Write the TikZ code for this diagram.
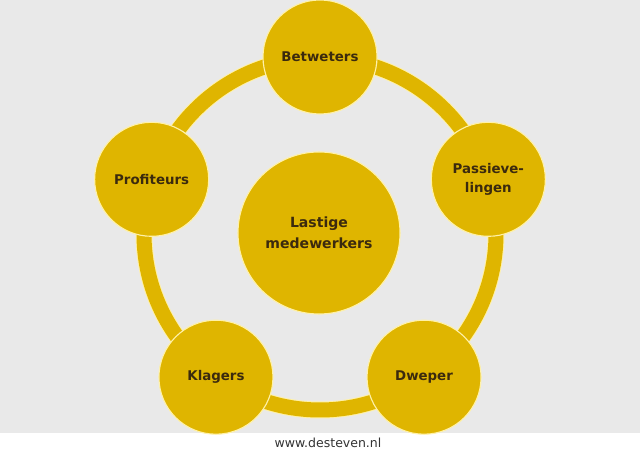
\documentclass[tikz,border=0pt]{standalone}
\usepackage{fontspec}
\setmainfont{DejaVu Sans}
\usetikzlibrary{calc,positioning}
\definecolor{FigureGold}{HTML}{DFB500}
\definecolor{FigureEdge}{HTML}{FFF1A8}
\definecolor{FigureText}{HTML}{3B2A0E}
\definecolor{FigureBack}{HTML}{E9E9E9}
\definecolor{FigureUrl}{HTML}{333333}

\begin{document}
\begin{tikzpicture}[x=0.025cm,y=0.025cm,line cap=round,line join=round,
    hub/.style={circle,fill=FigureGold,draw=FigureEdge,line width=0.8pt,
      minimum size=4.05cm,inner sep=0pt,align=center,text=FigureText,
      font=\fontsize{10}{15}\selectfont\bfseries},
    spoke/.style={circle,fill=FigureGold,draw=FigureEdge,line width=0.8pt,
      minimum size=2.85cm,inner sep=0pt,align=center,text=FigureText,
      font=\fontsize{9.5}{13}\selectfont\bfseries}]
  \useasboundingbox (0,0) rectangle (640,455);
  \fill[white] (0,0) rectangle (640,455);
  \fill[FigureBack] (0,22) rectangle (640,455);
  \coordinate (mid) at (320,221);
  % ring behind the circles
  \draw[FigureEdge,line width=17*0.025cm] (mid) circle (176);
  \draw[FigureGold,line width=15*0.025cm] (mid) circle (176);
  \node[hub] (lastig) at (319,222) {Lastige\\medewerkers};
  \node[spoke] (betweters) at ($(mid)+(90:177)$) {Betweters};
  \node[spoke] (passief) at ($(mid)+(18:177)$) {Passieve-\\lingen};
  \node[spoke] (dweper) at ($(mid)+(306:177)$) {Dweper};
  \node[spoke] (klagers) at ($(mid)+(234:177)$) {Klagers};
  \node[spoke] (profiteurs) at ($(mid)+(162:177)$) {Profiteurs};
  \node[text=FigureUrl,font=\fontsize{8.9}{10}\selectfont] (site) at (328,12) {www.desteven.nl};
\end{tikzpicture}
\end{document}
